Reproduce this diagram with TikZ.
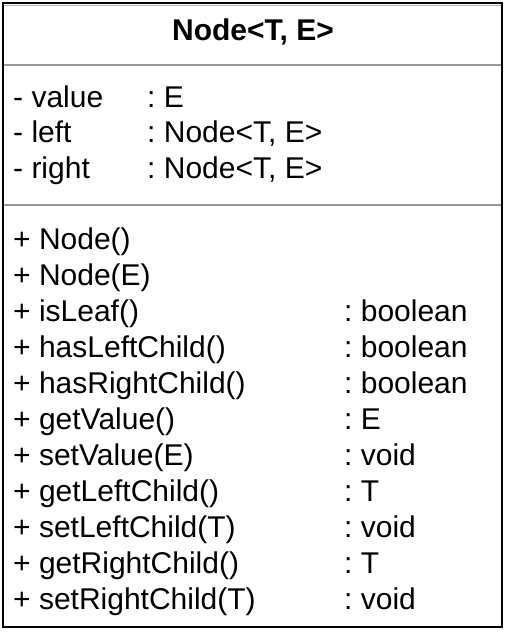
\documentclass[tikz,border=0pt]{standalone}
\usepackage{fontspec}
\setmainfont{Liberation Sans}
\frenchspacing
\begin{document}
\begin{tikzpicture}[x=1pt,y=-1pt,
  txt/.style={anchor=base west,inner sep=0pt,font=\fontsize{30}{36}\selectfont\frenchspacing},
  ttl/.style={anchor=base,inner sep=0pt,font=\fontsize{30}{36}\selectfont\bfseries},
  sep/.style={draw=black!40,line width=2pt},
  frame/.style={draw=black,line width=2.6pt}]
\useasboundingbox (0,0) rectangle (506,632);
\fill[white] (0,0) rectangle (506,632);
% header inner line
\draw[draw=black!30,line width=1pt] (4,5.5) -- (501,5.5);
% separators
\coordinate (s1l) at (3,65); \coordinate (s1r) at (502,65);
\coordinate (s2l) at (3,205); \coordinate (s2r) at (502,205);
\draw[sep] (s1l) -- (s1r);
\draw[sep] (s2l) -- (s2r);
% title
\node[ttl] (title) at (253,40) {Node<T, E>};
% attributes
\node[txt] (a1) at (13,107) {- value};
\node[txt] (a1t) at (147,107) {: E};
\node[txt] (a2) at (13,142.5) {- left};
\node[txt] (a2t) at (147,142.5) {: Node<T, E>};
\node[txt] (a3) at (13,178) {- right};
\node[txt] (a3t) at (147,178) {: Node<T, E>};
% methods
\node[txt] (m1) at (13,249) {+ Node()};
\node[txt] (m2) at (13,285) {+ Node(E)};
\node[txt] (m3) at (13,321) {+ isLeaf()};
\node[txt] (m3t) at (344,321) {: boolean};
\node[txt] (m4) at (13,357) {+ hasLeftChild()};
\node[txt] (m4t) at (344,357) {: boolean};
\node[txt] (m5) at (13,393) {+ hasRightChild()};
\node[txt] (m5t) at (344,393) {: boolean};
\node[txt] (m6) at (13,429) {+ getValue()};
\node[txt] (m6t) at (344,429) {: E};
\node[txt] (m7) at (13,465) {+ setValue(E)};
\node[txt] (m7t) at (344,465) {: void};
\node[txt] (m8) at (13,501) {+ getLeftChild()};
\node[txt] (m8t) at (344,501) {: T};
\node[txt] (m9) at (13,537) {+ setLeftChild(T)};
\node[txt] (m9t) at (344,537) {: void};
\node[txt] (m10) at (13,573) {+ getRightChild()};
\node[txt] (m10t) at (344,573) {: T};
\node[txt] (m11) at (13,609) {+ setRightChild(T)};
\node[txt] (m11t) at (344,609) {: void};
% outer frame
\draw[frame] (3,3) rectangle (502,627);
\end{tikzpicture}
\end{document}
